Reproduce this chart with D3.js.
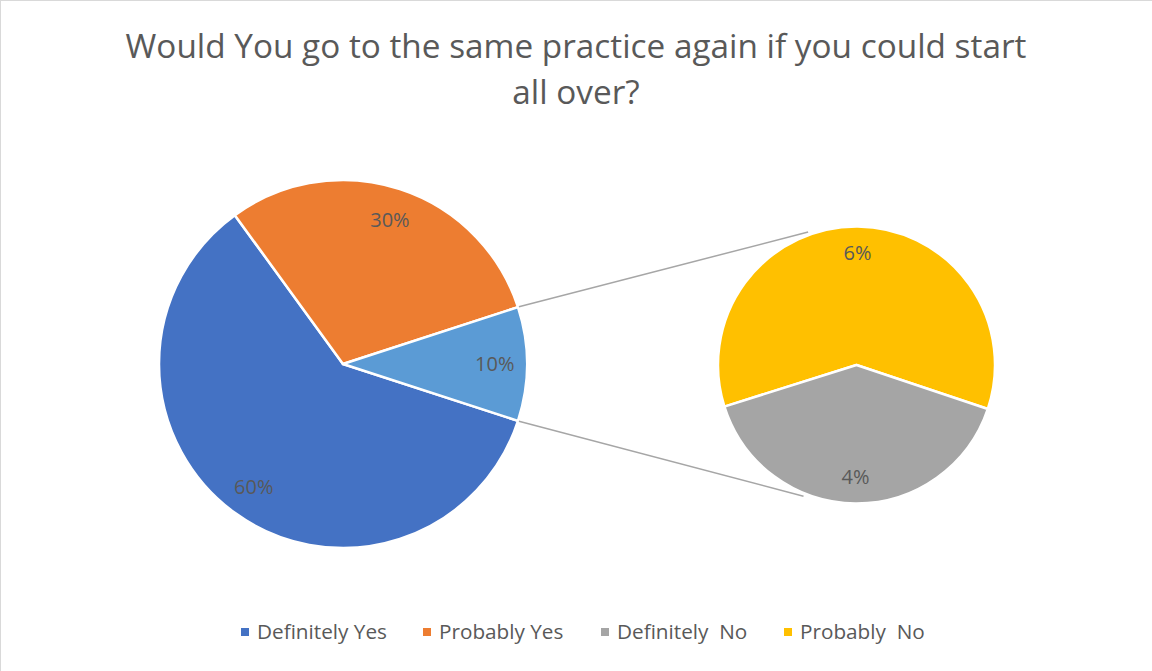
<!DOCTYPE html>
<html>
<head>
<meta charset="utf-8">
<script src="https://cdn.jsdelivr.net/npm/d3@7"></script>
<style>
  html, body { margin: 0; padding: 0; background: #fff; }
  svg { display: block; }
  text { font-family: "Open Sans", "Noto Sans", sans-serif; fill: #595959; white-space: pre; }
</style>
</head>
<body>
<svg id="chart" width="1152" height="671"></svg>
<script>
// Survey answers (share of respondents)
const mainCategories = ["Definitely Yes", "Probably Yes", "Other"];
const mainValues = [0.60, 0.30, 0.10];
const mainColors = ["#4472C4", "#ED7D31", "#5B9BD5"];

// Breakdown of the "Other" slice
const subCategories = ["Probably  No", "Definitely  No"];
const subValues = [0.06, 0.04];
const subColors = ["#FFC000", "#A5A5A5"];

const legendLabels = ["Definitely Yes", "Probably Yes", "Definitely  No", "Probably  No"];
const legendColors = ["#4472C4", "#ED7D31", "#A5A5A5", "#FFC000"];

const titleLines = ["Would You go to the same practice again if you could start", "all over?"];

const svg = d3.select("#chart");
const W = 1152, H = 671;

// frame edges
svg.append("line").attr("x1", 0.5).attr("y1", 0).attr("x2", 0.5).attr("y2", H).attr("stroke", "#d9d9d9");
svg.append("line").attr("x1", 0).attr("y1", 0.5).attr("x2", W).attr("y2", 0.5).attr("stroke", "#d9d9d9");

// fit helper: sets font size so text spans the target width
function fitText(sel, target, base) {
  sel.style("font-size", base + "px");
  const w = sel.node().getComputedTextLength();
  sel.style("font-size", (base * target / w) + "px");
}

// title
const t1 = svg.append("text").attr("x", 576).attr("y", 58).attr("text-anchor", "middle").text(titleLines[0]);
fitText(t1, 901, 30);
const t2 = svg.append("text").attr("x", 576).attr("y", 104).attr("text-anchor", "middle").text(titleLines[1]);
t2.style("font-size", t1.style("font-size"));

const deg = Math.PI / 180;
const labelSize = "20px";

// main pie
const mc = { x: 343, y: 364 }, mr = 184;
const mainPie = d3.pie().sort(null).startAngle(108 * deg).endAngle(468 * deg);
const mainArcs = mainPie(mainValues);
const arcMain = d3.arc().innerRadius(0).outerRadius(mr);
const gMain = svg.append("g").attr("transform", `translate(${mc.x},${mc.y})`);
gMain.selectAll("path").data(mainArcs).join("path")
  .attr("d", arcMain)
  .attr("fill", (d, i) => mainColors[i])
  .attr("stroke", "#fff").attr("stroke-width", 2.5).attr("stroke-linejoin", "round");

// main labels
const mainLabelArc = d3.arc().innerRadius(0).outerRadius(mr * 1.65);
gMain.selectAll("text").data(mainArcs).join("text")
  .attr("transform", d => `translate(${mainLabelArc.centroid(d)})`)
  .attr("text-anchor", "middle").attr("dy", "0.35em")
  .style("font-size", labelSize)
  .text(d => Math.round(d.data * 100) + "%");

// secondary pie
const sc = { x: 856.5, y: 365 }, sr = 138.5;
const subPie = d3.pie().sort(null).startAngle(252.5 * deg).endAngle(612.5 * deg);
const subArcs = subPie(subValues);
const arcSub = d3.arc().innerRadius(0).outerRadius(sr);
const gSub = svg.append("g").attr("transform", `translate(${sc.x},${sc.y})`);
gSub.selectAll("path").data(subArcs).join("path")
  .attr("d", arcSub)
  .attr("fill", (d, i) => subColors[i])
  .attr("stroke", "#fff").attr("stroke-width", 2.5).attr("stroke-linejoin", "round");

const subLabelArc = d3.arc().innerRadius(0).outerRadius(sr * 1.62);
gSub.selectAll("text").data(subArcs).join("text")
  .attr("transform", d => `translate(${subLabelArc.centroid(d)})`)
  .attr("text-anchor", "middle").attr("dy", "0.35em")
  .style("font-size", labelSize)
  .text(d => Math.round(d.data * 100) + "%");

// connector lines from the "Other" slice edges to the secondary pie
const other = mainArcs[2];
const polar = (c, r, a) => [c.x + r * Math.sin(a), c.y - r * Math.cos(a)];
const connectors = [
  [polar(mc, mr + 1, other.startAngle), polar(sc, sr + 3, -20 * deg)],
  [polar(mc, mr + 1, other.endAngle), polar(sc, sr + 3, 202 * deg)]
];
svg.selectAll("line.conn").data(connectors).join("line")
  .attr("class", "conn")
  .attr("x1", d => d[0][0]).attr("y1", d => d[0][1])
  .attr("x2", d => d[1][0]).attr("y2", d => d[1][1])
  .attr("stroke", "#a6a6a6").attr("stroke-width", 1.5);

// legend
const legendX = [241, 423, 601, 784];
const gLeg = svg.append("g");
let legendSize = null;
legendLabels.forEach((lab, i) => {
  gLeg.append("rect").attr("x", legendX[i]).attr("y", 628).attr("width", 8).attr("height", 8).attr("fill", legendColors[i]);
  const tx = gLeg.append("text").attr("x", legendX[i] + 16).attr("y", 639)
    .attr("xml:space", "preserve").text(lab);
  if (i === 0) { fitText(tx, 130, 17); legendSize = tx.style("font-size"); }
  else tx.style("font-size", legendSize);
});
</script>
</body>
</html>
